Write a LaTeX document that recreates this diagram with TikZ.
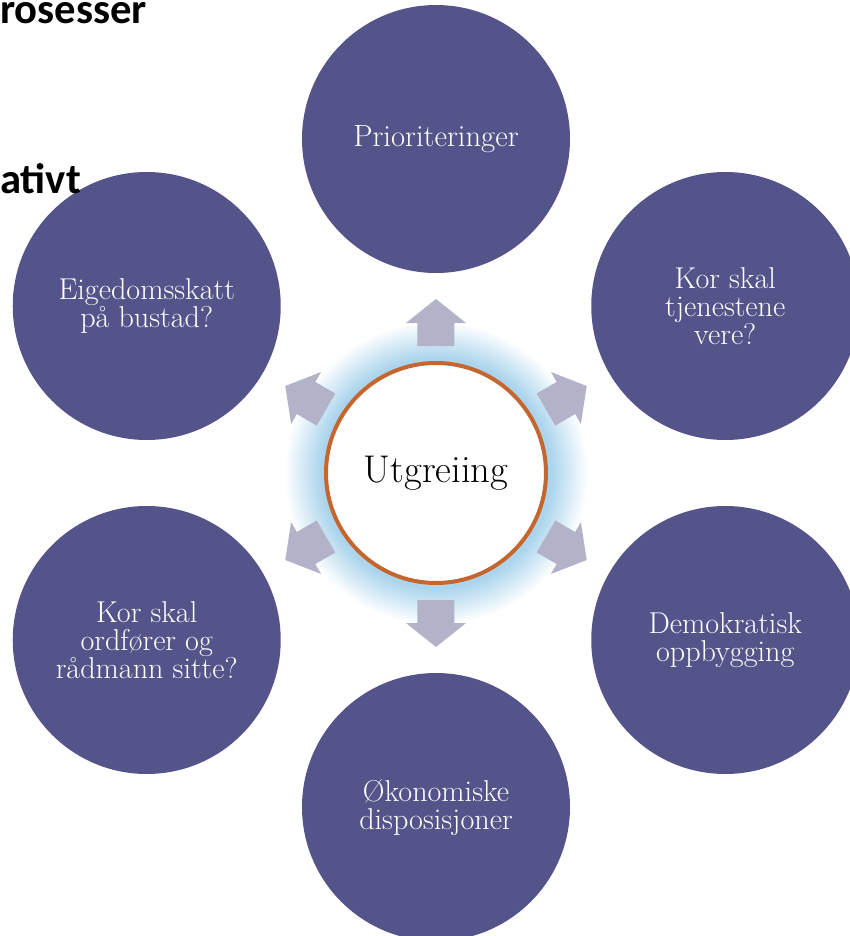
\documentclass[tikz,border=0pt]{standalone}
\usepackage{fontspec}
\newfontfamily\headfont{Carlito}
\definecolor{bubblefill}{RGB}{84,84,138}
\definecolor{arrowgray}{RGB}{178,178,200}
\definecolor{ringorange}{RGB}{197,102,46}
\definecolor{glowblue}{RGB}{172,213,237}
\pgfdeclareradialshading{glow}{\pgfpointorigin}{color(0bp)=(glowblue); color(19bp)=(glowblue); color(25bp)=(white); color(50bp)=(white)}

\begin{document}
\begin{tikzpicture}[x=0.75pt,y=0.75pt,
    bubble/.style={circle,fill=bubblefill,text=white,minimum size=201pt,inner sep=0pt,
        align=center,font=\fontsize{22.6}{21}\selectfont},
    heading/.style={anchor=base west,inner sep=0pt,font=\headfont\bfseries\fontsize{32}{36}\selectfont}]
    \clip (-436,-463) rectangle (414,473);
    % glow behind the centre
    \shade[shading=glow] (0,0) circle (152);
    % block arrows
    \foreach \a in {90,30,-30,-90,-150,150}{
        \fill[arrowgray,rotate=\a] (127,-18.5)--(150,-18.5)--(150,-30)--(174,0)--(150,30)--(150,18.5)--(127,18.5)--cycle;
    }
    \node[circle,draw=ringorange,line width=3pt,fill=white,minimum size=165pt,
        font=\fontsize{29}{32}\selectfont] (hub) at (0,0) {Utgreiing};
    \node[bubble,font=\fontsize{23}{24}\selectfont] (prio) at (90:334) {Prioriteringer};
    \node[bubble] (tenester) at (30:334) {Kor skal\\tjenestene\\vere?};
    \node[bubble] (demokrati) at (-30:334) {Demokratisk\\oppbygging};
    \node[bubble] (okonomi) at (-90:334) {Økonomiske\\disposisjoner};
    \node[bubble] (ordforer) at (-150:334) {Kor skal\\ordfører og\\rådmann sitte?};
    \node[bubble] (skatt) at (150:334) {Eigedomsskatt\\på bustad?};
    % cut-off headings
    \node[heading] (head1) at (-436,449) {rosesser};
    \node[heading] (head2) at (-436,280) {ativt};
\end{tikzpicture}
\end{document}
